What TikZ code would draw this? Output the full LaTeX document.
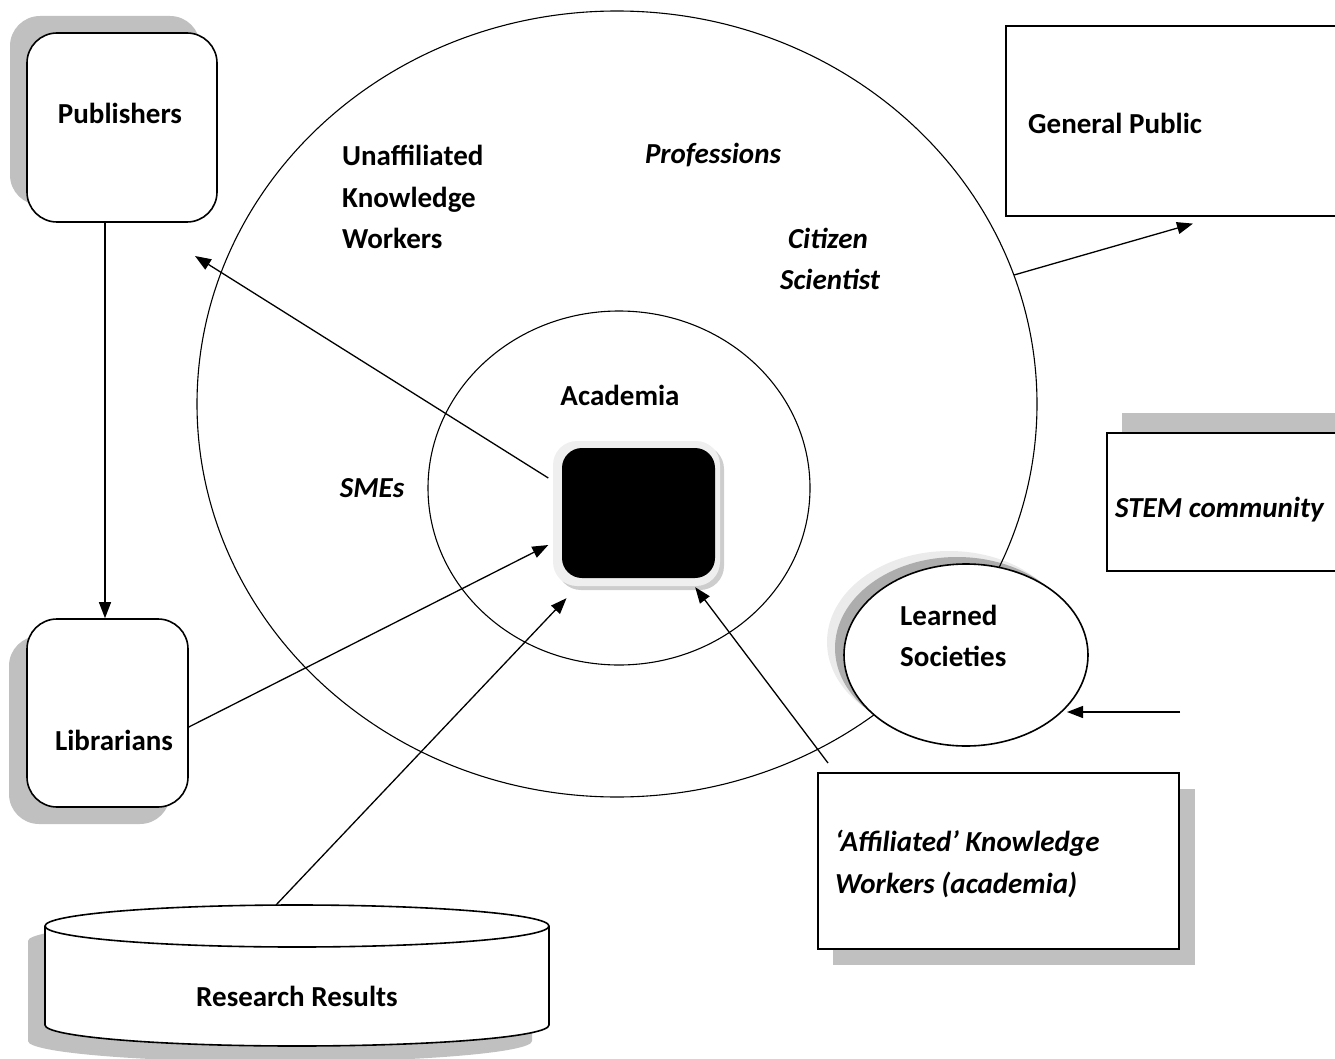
\documentclass[tikz,border=0pt]{standalone}
\usepackage{fontspec}
\setmainfont{Carlito}
\usetikzlibrary{arrows.meta,shapes.geometric}
\definecolor{shadowgray}{HTML}{C0C0C0}
\definecolor{ringgray}{HTML}{EFEFEF}
\definecolor{lightshadow}{HTML}{EBEBEB}
\begin{document}
\begin{tikzpicture}[x=1pt,y=-1pt,
  lbl/.style={font=\fontsize{29}{41.5}\selectfont\bfseries, inner sep=0pt},
  ilbl/.style={font=\fontsize{29}{41.5}\selectfont\bfseries\itshape, inner sep=0pt},
  shd/.style={fill=shadowgray, draw=none},
  boxline/.style={draw=black, line width=1.6pt, fill=white},
  arr/.style={draw=black, line width=1.3pt, -{Triangle[length=16pt,width=12pt]}},
  thinline/.style={draw=black, line width=1.1pt}
]
\useasboundingbox (0,0) rectangle (1335,1059);

% ---------- shadows ----------
\fill[shd, rounded corners=30pt] (10,16) rectangle (200,205);
\fill[shd, rounded corners=30pt] (9,636) rectangle (170,824);
\fill[shd] (1122,413) rectangle (1350,551);
\fill[shd] (833,789) rectangle (1195,965);
\fill[shd] (28,941) -- (28,1041) arc[start angle=180, end angle=0, x radius=252, y radius=21] -- (532,941) arc[start angle=0, end angle=-180, x radius=252, y radius=21] -- cycle;
\fill[lightshadow] (949,642) ellipse[x radius=122, y radius=91];
\fill[shadowgray!90!black] (957,648) ellipse[x radius=122, y radius=91];

% ---------- circles ----------
\node[ellipse, draw=black, line width=1.1pt, inner sep=0pt,
      minimum width=840pt, minimum height=786pt] (outer) at (617,404) {};
\node[ellipse, draw=black, line width=1.1pt, inner sep=0pt,
      minimum width=382pt, minimum height=354pt] (inner) at (619,488) {};

% ---------- boxes ----------
\node[boxline, rounded corners=30pt, minimum width=190pt, minimum height=189pt, inner sep=0pt] (pub) at (122,127.5) {};
\node[boxline, rounded corners=30pt, minimum width=161pt, minimum height=188pt, inner sep=0pt] (lib) at (107.5,713) {};
\node[boxline, minimum width=345pt, minimum height=190pt, inner sep=0pt, anchor=north west] (gp) at (1005,25) {};
\node[boxline, minimum width=245pt, minimum height=138pt, inner sep=0pt, anchor=north west] (stem) at (1106,432) {};
\node[boxline, minimum width=361pt, minimum height=176pt, inner sep=0pt, anchor=north west] (aff) at (817,772) {};

% ---------- cylinder ----------
\filldraw[fill=white, draw=black, line width=1.6pt] (45,926) -- (45,1025) arc[start angle=180, end angle=0, x radius=252, y radius=21] -- (549,926) arc[start angle=0, end angle=-180, x radius=252, y radius=21] -- cycle;
\draw[line width=1.6pt] (45,926) arc[start angle=180, end angle=0, x radius=252, y radius=21];
\coordinate (rrtop) at (276,905);

% ---------- central black box ----------
\fill[shadowgray!80!white, rounded corners=24pt] (557,445) rectangle (724,590);
\fill[ringgray, rounded corners=24pt] (553,441) rectangle (720,586);
\node[fill=black, rounded corners=20pt, minimum width=153pt, minimum height=130pt, inner sep=0pt] (bb) at (638.5,513) {};

% ---------- labels ----------
\node[lbl] (tpub) at (120,113) {Publishers};
\node[lbl] (tlib) at (114,740) {Librarians};
\node[lbl, anchor=west] (tgp) at (1028,123) {General Public};
\node[ilbl, anchor=west] (tstem) at (1115,510) {STEM community};
\node[ilbl, anchor=west, align=left] (taff) at (835,864) {‘Affiliated’ Knowledge\\Workers (academia)};
\node[lbl] (trr) at (297,996) {Research Results};
\node[lbl, anchor=west, align=left] (tunaff) at (342,197) {Unaffiliated\\Knowledge\\Workers};
\node[ilbl] (tprof) at (713,155) {Professions};
\node[ilbl, align=center] (tcit) at (828,259) {Citizen\\\hspace*{4pt}Scientist};
\node[lbl] (tacad) at (620,395) {Academia};
\node[ilbl] (tsme) at (372,488) {SMEs};

% ---------- connectors ----------
\coordinate (pubtip) at (195,256);
\coordinate (lsfrom) at (1180,712);
\draw[arr] ([xshift=-17pt]pub.south) -- ([xshift=-2.5pt]lib.north);
\draw[arr] ([shift={(-13.5,-35)}]bb.west) -- (pubtip);
\draw[arr] ([shift={(0,14)}]lib.east) -- ([shift={(-13.5,32)}]bb.west);
\draw[arr] (rrtop) -- ([shift={(-72,20)}]bb.south);
\draw[arr] ([shift={(11,-9)}]aff.north west) -- ([shift={(-20,9)}]bb.south east);
\draw[arr] (outer.18) -- ([shift={(188,7)}]gp.south west);

% ---------- learned societies ----------
\node[ellipse, draw=black, line width=1.6pt, fill=white, inner sep=0pt,
      minimum width=244pt, minimum height=182pt] (ls) at (966,655) {};
\node[lbl, anchor=west, align=left] (tls) at (900,636) {Learned\\Societies};
\draw[arr] (lsfrom) -- ([shift={(101,57)}]ls.center);
\end{tikzpicture}
\end{document}
